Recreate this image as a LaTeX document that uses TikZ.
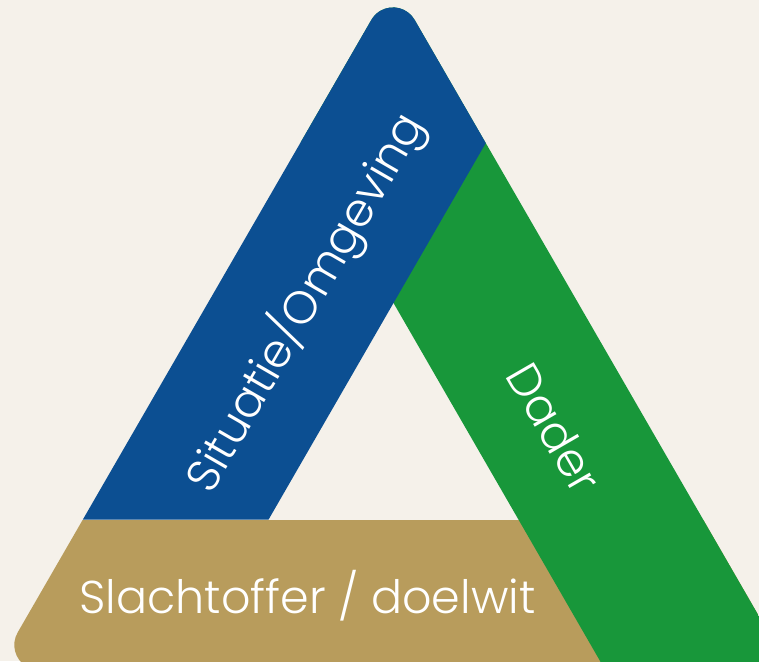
\documentclass[tikz,border=0pt]{standalone}
\usepackage{fontspec}
\newfontfamily\pop{Poppins Light}
\usetikzlibrary{calc}
\definecolor{bg}{HTML}{F5F1EA}
\definecolor{bandblue}{HTML}{0C4F92}
\definecolor{bandgreen}{HTML}{18973A}
\definecolor{bandtan}{HTML}{B89C5C}
\begin{document}
\begin{tikzpicture}[x=1pt,y=1pt,
  bandtext/.style={text=white,font=\pop\fontsize{46}{50}\selectfont,inner sep=0pt}]
\useasboundingbox (0,0) rectangle (759,661);
\fill[bg] (0,0) rectangle (759,661);
\def\R{25}
\coordinate (ca) at (393,628.6);
\coordinate (cl) at (39.3,16);
\coordinate (cr) at (746.7,16);
\begin{scope}
\clip ($(ca)+(30:\R)$) arc[start angle=30,end angle=150,radius=\R]
  -- ($(cl)+(150:\R)$) arc[start angle=150,end angle=270,radius=\R]
  -- ($(cr)+(270:\R)$) arc[start angle=270,end angle=390,radius=\R] -- cycle;
\fill[bandtan] (-10,-20) rectangle (800,141.5);
\fill[bandgreen] (138.5,800) -- (628.9,-50) -- (900,-50) -- (900,800) -- cycle;
\fill[bandblue] (-50,141.5) -- (268.6,141.5) -- (648.5,800) -- (-50,800) -- cycle;
\end{scope}
\node[bandtext,anchor=base] (tan) at (307.5,48) {Slachtoffer / doelwit};
\node[bandtext,rotate=60] (sit) at (305,359) {Situatie/Omgeving};
\node[bandtext,rotate=-60] (dad) at (554.5,233) {Dader};
\end{tikzpicture}
\end{document}
